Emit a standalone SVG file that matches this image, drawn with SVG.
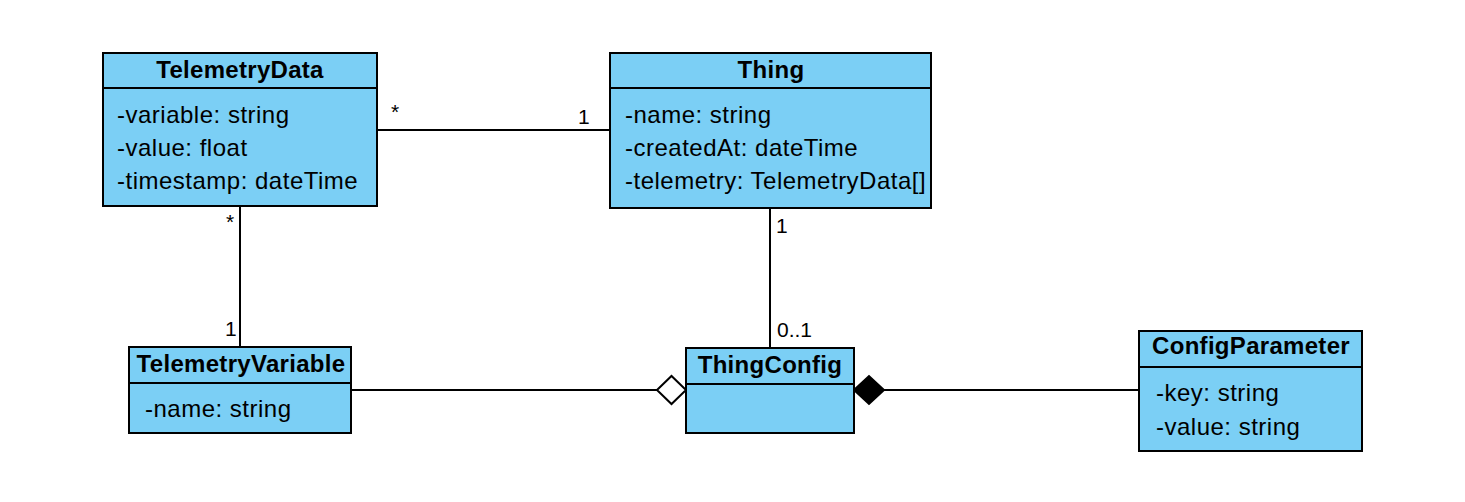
<svg xmlns="http://www.w3.org/2000/svg" width="1465" height="502" viewBox="0 0 1465 502">
<style>
.box{fill:#7bcff5;stroke:#000;stroke-width:2}
.div{stroke:#000;stroke-width:2}
.hd{font-family:"Liberation Sans",Arial,sans-serif;font-weight:bold;font-size:24px;letter-spacing:0.3px;text-anchor:middle;fill:#000}
.at{font-family:"Liberation Sans",Arial,sans-serif;font-size:24px;letter-spacing:0.5px;fill:#000}
.lb{font-family:"Liberation Sans",Arial,sans-serif;font-size:21px;fill:#000}
.ln{stroke:#000;stroke-width:2;fill:none}
</style>
<rect width="1465" height="502" fill="#fff"/>
<g id="connectors">
<line class="ln" x1="377" y1="130" x2="610" y2="130"/>
<line class="ln" x1="240" y1="206" x2="240" y2="347"/>
<line class="ln" x1="770" y1="208" x2="770" y2="348"/>
<line class="ln" x1="351" y1="390" x2="657" y2="390"/>
<polygon points="657,390 671.5,376 686,390 671.5,404" fill="#fff" stroke="#000" stroke-width="2"/>
<line class="ln" x1="884" y1="390" x2="1139" y2="390"/>
<polygon points="854,390 869,376 884,390 869,404" fill="#000" stroke="#000" stroke-width="2"/>
<text class="lb" x="391" y="119">*</text>
<text class="lb" x="578" y="124">1</text>
<text class="lb" x="226" y="229">*</text>
<text class="lb" x="225" y="336">1</text>
<text class="lb" x="776" y="233">1</text>
<text class="lb" x="777" y="337">0..1</text>
</g>
<g id="TelemetryData">
<rect class="box" x="103" y="53" width="274" height="153"/>
<line class="div" x1="103" y1="88" x2="377" y2="88"/>
<text class="hd" x="240" y="78">TelemetryData</text>
<text class="at" x="117" y="123">-variable: string</text>
<text class="at" x="117" y="156">-value: float</text>
<text class="at" x="117" y="189">-timestamp: dateTime</text>
</g>
<g id="Thing">
<rect class="box" x="610" y="53" width="321" height="155"/>
<line class="div" x1="610" y1="88" x2="931" y2="88"/>
<text class="hd" x="771" y="78">Thing</text>
<text class="at" x="625" y="123">-name: string</text>
<text class="at" x="625" y="156">-createdAt: dateTime</text>
<text class="at" x="625" y="189">-telemetry: TelemetryData[]</text>
</g>
<g id="TelemetryVariable">
<rect class="box" x="129" y="347" width="222" height="86"/>
<line class="div" x1="129" y1="383" x2="351" y2="383"/>
<text class="hd" x="241" y="372">TelemetryVariable</text>
<text class="at" x="145" y="417">-name: string</text>
</g>
<g id="ThingConfig">
<rect class="box" x="686" y="348" width="168" height="85"/>
<line class="div" x1="686" y1="384" x2="854" y2="384"/>
<text class="hd" x="770" y="373">ThingConfig</text>
</g>
<g id="ConfigParameter">
<rect class="box" x="1139" y="331" width="223" height="120"/>
<line class="div" x1="1139" y1="367" x2="1362" y2="367"/>
<text class="hd" x="1251" y="354">ConfigParameter</text>
<text class="at" x="1156" y="401">-key: string</text>
<text class="at" x="1156" y="435">-value: string</text>
</g>
</svg>
